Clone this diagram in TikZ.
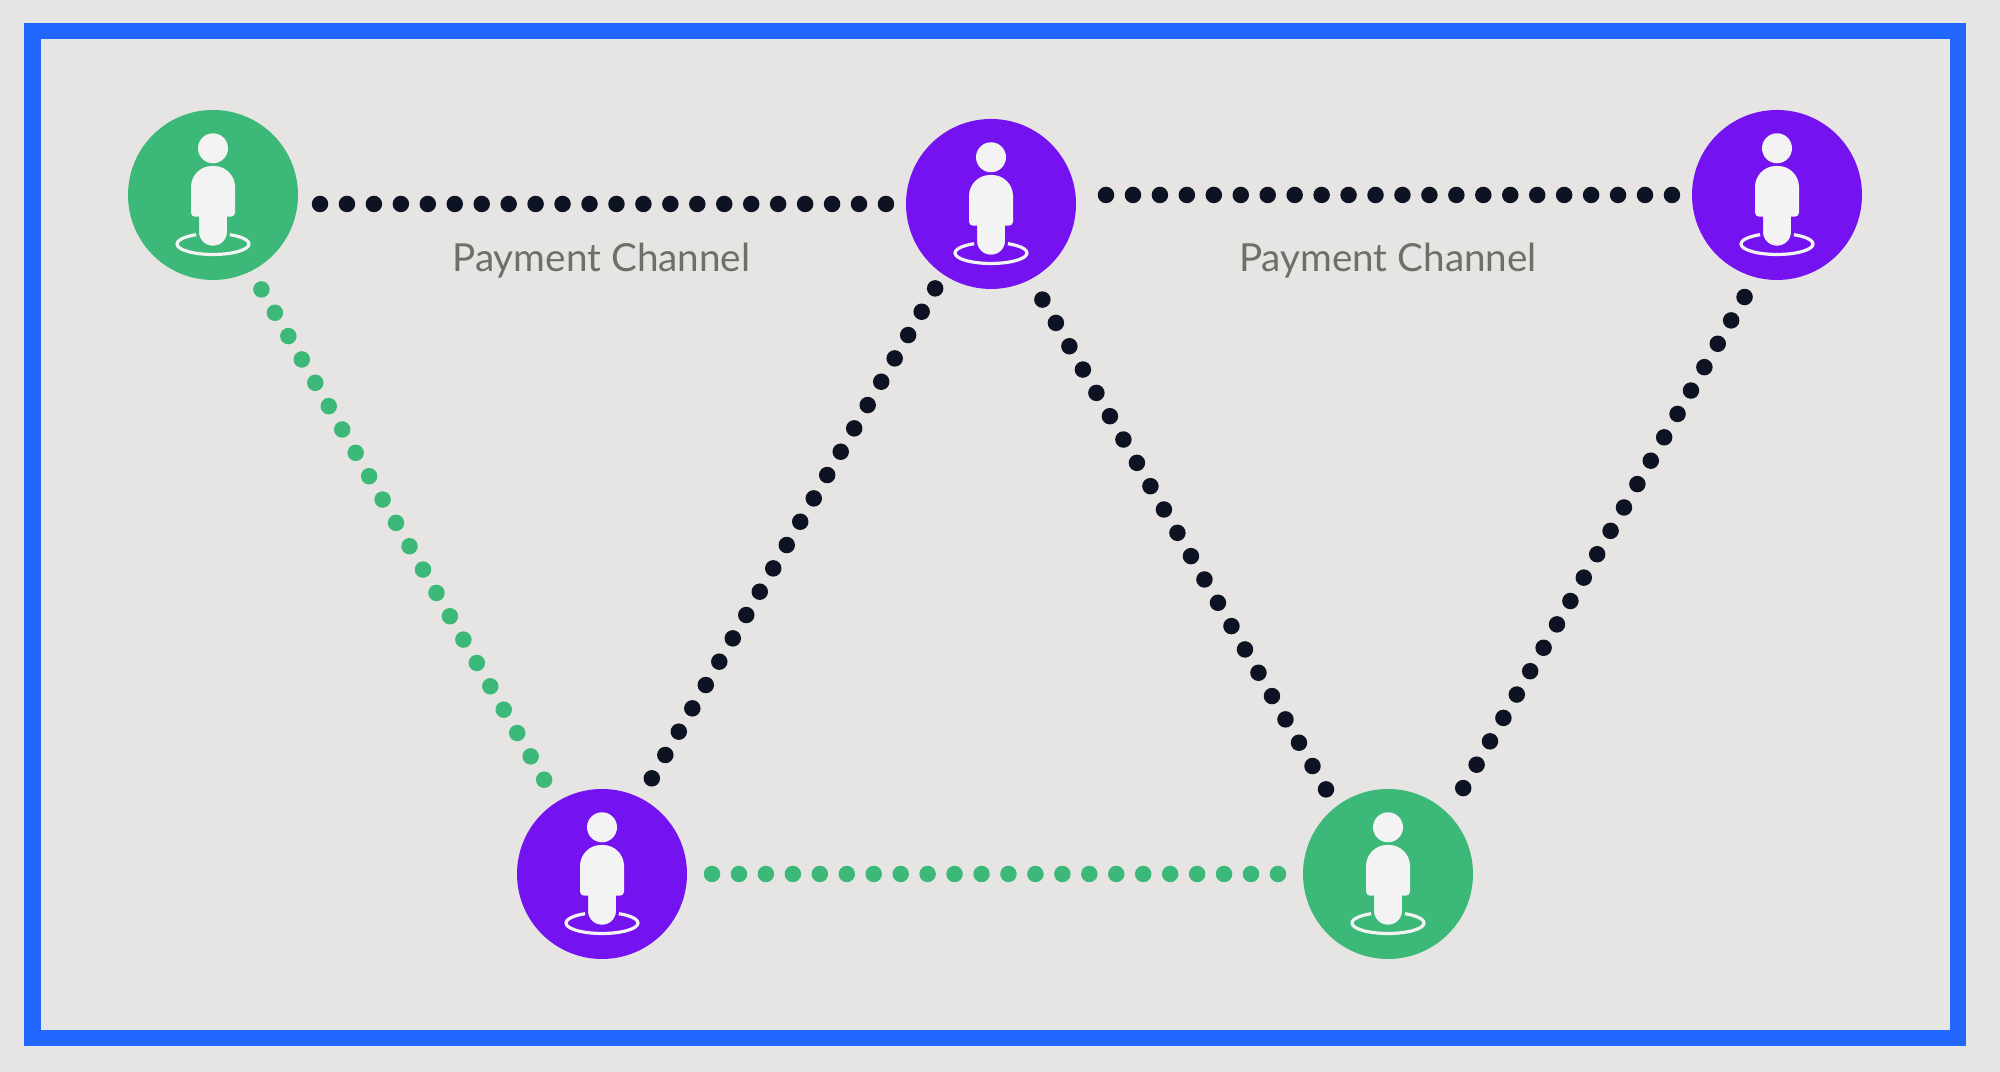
\documentclass[tikz,border=0pt]{standalone}
\usepackage{fontspec}
\setmainfont{Lato}
\usetikzlibrary{positioning}
\definecolor{bggray}{HTML}{E6E5E3}
\definecolor{frameblue}{HTML}{2166FF}
\definecolor{peergreen}{HTML}{3CB878}
\definecolor{peerpurple}{HTML}{7512F0}
\definecolor{dotdark}{HTML}{0D1323}
\definecolor{labelgray}{HTML}{6E6E6A}
\definecolor{iconwhite}{HTML}{F3F3F3}
\tikzset{
  peer/.style={circle, minimum size=1.7cm, inner sep=0pt},
  channel/.style={line width=.165cm, line cap=round, dash pattern=on 0pt off .2695cm, dotdark},
  greenchannel/.style={channel, peergreen},
  chanlabel/.style={labelgray, font=\fontsize{11}{14}\selectfont}
}
\begin{document}
\begin{tikzpicture}
            \useasboundingbox[fill=bggray] (0,0) rectangle (20,10.72);
            \draw[frameblue, line width=.165cm] (.325,.34) rectangle (19.58,10.41);

            % Peers
            \node[peer, fill=peergreen] (a) at (2.13,8.77) {};
            \node[peer, fill=peerpurple] (b) at (9.91,8.68) {};
            \node[peer, fill=peerpurple] (c) at (17.77,8.77) {};
            \node[peer, fill=peerpurple] (d) at (6.02,1.98) {};
            \node[peer, fill=peergreen] (e) at (13.88,1.98) {};

            % Person icons
            \foreach \n/\col in {a/peergreen, b/peerpurple, c/peerpurple, d/peerpurple, e/peergreen} {
                \begin{scope}[shift={(\n)}]
                    \draw[iconwhite, line width=.032cm] (0,-.49) ellipse (.36 and .105);
                    \draw[\col, line width=.03cm, fill=iconwhite, rounded corners=.15cm] (-.155,-.522) rectangle (.155,0);
                    \fill[iconwhite] (0,.467) circle (.15);
                    \fill[iconwhite, rounded corners=.04cm] (-.22,-.217) -- (.22,-.217) -- (.22,.05) [rounded corners=.21cm] -- (.22,.29) -- (-.22,.29) [rounded corners=.04cm] -- (-.22,.05) -- cycle;
                \end{scope}
            }

            % Payment channels
            \draw[channel, shorten <=1.07cm, shorten >=1.0cm] (a |- b) -- (b.center);
            \draw[channel, shorten <=1.15cm, shorten >=1.0cm] (b |- c) -- (c.center);
            \draw[greenchannel, shorten <=1.09cm, shorten >=1.0cm] ([xshift=-.06cm]a.center) -- ([xshift=-.035cm]d.center);
            \draw[greenchannel, shorten <=1.1cm, shorten >=1.05cm] (d.center) -- (e.center);
            \draw[channel, shorten <=1.105cm, shorten >=.9cm] ([xshift=-.055cm]d.center) -- ([xshift=-.07cm]b.center);
            \draw[channel, shorten <=1.105cm, shorten >=.9cm] ([xshift=-.04cm]b.center) -- ([xshift=-.13cm]e.center);
            \draw[channel, shorten <=.99cm, shorten >=1.1cm] ([xshift=.26cm]e.center) -- ([xshift=.26cm]c.center);

            % Labels
            \node[chanlabel] (label1) at (6.015,8.11) {Payment Channel};
            \node[chanlabel] (label2) at (13.88,8.11) {Payment Channel};
\end{tikzpicture}
\end{document}
